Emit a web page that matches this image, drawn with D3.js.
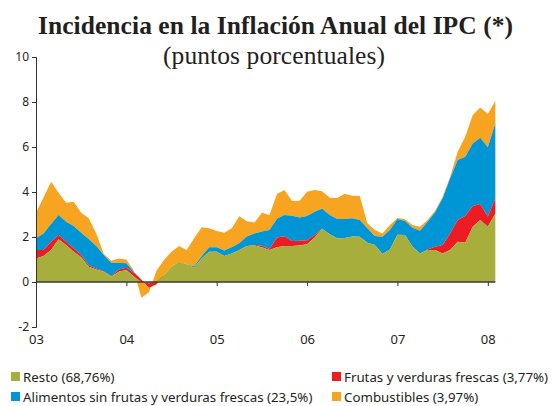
<!DOCTYPE html>
<html><head><meta charset="utf-8">
<script src="https://cdn.jsdelivr.net/npm/d3@7"></script>
<style>body{margin:0;background:#fff}svg{display:block}</style>
</head><body>
<script>
const yearLabels = ["03","04","05","06","07","08"];
const yTicks = [-2,0,2,4,6,8,10];
const seriesNames = ["Resto (68,76%)","Frutas y verduras frescas (3,77%)","Alimentos sin frutas y verduras frescas (23,5%)","Combustibles (3,97%)"];
// monthly values, Jan 2003 - Feb 2008
const resto = [1.05,1.16,1.42,1.90,1.64,1.35,1.10,0.68,0.56,0.46,0.24,0.46,
  0.53,0.25,0.00,-0.05,0.00,0.31,0.68,0.90,0.79,0.65,1.05,1.35,
  1.35,1.16,1.27,1.42,1.60,1.62,1.54,1.42,1.55,1.60,1.60,1.62,
  1.68,1.98,2.37,2.12,1.94,1.96,2.02,2.01,1.75,1.64,1.24,1.45,
  2.10,2.09,1.57,1.27,1.42,1.42,1.27,1.42,1.79,1.75,2.46,2.76,
  2.46,3.05];
const frutas = [0.37,0.26,0.37,0.19,0.15,0.15,0.10,0.07,0.04,0.02,0.03,0.10,
  0.10,0.15,0.10,-0.20,-0.10,0.00,0.00,0.00,0.00,0.00,0.00,0.00,
  0.00,0.00,0.00,0.00,0.00,0.02,0.08,0.05,0.43,0.43,0.22,0.21,
  0.18,0.11,0.00,0.00,0.00,0.00,0.00,0.00,0.00,0.00,0.00,0.00,
  0.00,0.00,0.00,0.00,0.03,0.15,0.37,0.74,0.97,1.18,0.92,0.71,
  0.44,0.67];
const alimentos = [0.52,0.74,0.79,0.89,0.89,0.99,0.99,1.16,1.00,0.72,0.59,0.30,
  0.20,0.05,0.00,0.00,0.00,0.00,0.00,0.00,0.00,0.05,0.10,0.19,
  0.19,0.24,0.28,0.30,0.42,0.52,0.62,0.84,0.83,0.95,1.13,1.04,
  1.07,1.03,0.90,0.86,0.86,0.84,0.81,0.75,0.64,0.40,0.77,0.86,
  0.70,0.62,0.84,1.01,1.23,1.53,2.08,2.45,2.66,2.64,2.78,2.94,
  3.09,3.33];
const combustibles = [1.14,1.60,1.88,0.99,0.84,1.08,0.89,0.92,0.56,0.05,0.09,0.19,
  0.17,0.05,-0.80,-0.20,0.60,0.67,0.67,0.70,0.63,1.24,1.28,0.85,
  0.73,0.79,0.84,1.20,0.68,0.48,0.84,0.67,1.10,1.11,0.65,0.74,
  1.08,0.97,0.76,0.77,0.93,1.12,1.00,1.06,0.22,0.27,0.15,0.22,
  0.05,0.08,0.12,0.18,0.08,0.07,0.07,0.07,0.37,0.89,1.26,1.35,
  1.48,1.01];
const colors = ["#a7ae3b","#ed1c24","#0096d6","#f7a520"];

const W = 552, H = 406;
const svg = d3.select("body").append("svg").attr("width", W).attr("height", H);

const data = resto.map((v, i) => ({i, a: v, b: frutas[i], c: alimentos[i], d: combustibles[i]}));
const keys = ["a","b","c","d"];
const stack = d3.stack().keys(keys).offset(d3.stackOffsetNone);
const layers = stack(data);

const x = d3.scaleLinear().domain([0, resto.length - 1]).range([36, 36 + 7.53 * (resto.length - 1)]);
const y = d3.scaleLinear().domain([-2, 10]).range([327, 57]);

const area = d3.area().x(d => x(d.data.i)).y0(d => y(d[0])).y1(d => y(d[1]));

// draw top series first so lower series overlay at negative crossings
for (let k = layers.length - 1; k >= 0; k--) {
  svg.append("path").attr("d", area(layers[k])).attr("fill", colors[k]);
}

// Title
svg.append("text").attr("x", 38).attr("y", 34)
  .attr("font-family", "Liberation Serif, serif").attr("font-weight", "bold")
  .attr("font-size", 25.5).attr("fill", "#231f20")
  .attr("textLength", 475).attr("lengthAdjust", "spacing")
  .text("Incidencia en la Inflación Anual del IPC (*)");
svg.append("text").attr("x", 163).attr("y", 64)
  .attr("font-family", "Liberation Serif, serif")
  .attr("font-size", 25.5).attr("fill", "#231f20")
  .attr("textLength", 222).attr("lengthAdjust", "spacing")
  .text("(puntos porcentuales)");

// Y axis
const yAxis = svg.append("g").attr("transform", "translate(36,0)")
  .call(d3.axisLeft(y).tickValues(yTicks).tickSize(4).tickPadding(3).tickFormat(d => String(d)));
yAxis.select(".domain").attr("stroke", "#333").attr("d", "M-4,57.5H0.5V327.5H-4");
yAxis.selectAll("line").attr("stroke", "#333");
yAxis.selectAll("text").attr("font-family", "Noto Sans, sans-serif").attr("font-size", 12).attr("fill", "#231f20");

// Zero line with year ticks
const zAxis = svg.append("g").attr("transform", `translate(0,${y(0)})`)
  .call(d3.axisBottom(x).tickValues([0,12,24,36,48,60]).tickSize(4).tickFormat(""));
zAxis.select(".domain").attr("stroke", "#3a3a3a").attr("stroke-width", 1.5).attr("d", `M36,0H${x(resto.length - 1)}`);
zAxis.selectAll("line").attr("stroke", "#333");

// Year labels
const xAxis = svg.append("g").attr("transform", "translate(0,327)")
  .call(d3.axisBottom(x).tickValues([0,12,24,36,48,60]).tickSize(0).tickPadding(8)
    .tickFormat((d, i) => yearLabels[i]));
xAxis.select(".domain").remove();
xAxis.selectAll("text").attr("font-family", "Noto Sans, sans-serif").attr("font-size", 13).attr("fill", "#231f20");

// Legend
const legPos = [[11,377],[332,377],[11,397],[332,397]];
seriesNames.forEach((n, k) => {
  const [lx, ly] = legPos[k];
  svg.append("rect").attr("x", lx).attr("y", ly - 5).attr("width", 9).attr("height", 9).attr("fill", colors[k]);
  svg.append("text").attr("x", lx + 12).attr("y", ly + 4.5)
    .attr("font-family", "Noto Sans, sans-serif").attr("font-size", 13.3).attr("fill", "#231f20").text(n);
});
</script>
</body></html>
